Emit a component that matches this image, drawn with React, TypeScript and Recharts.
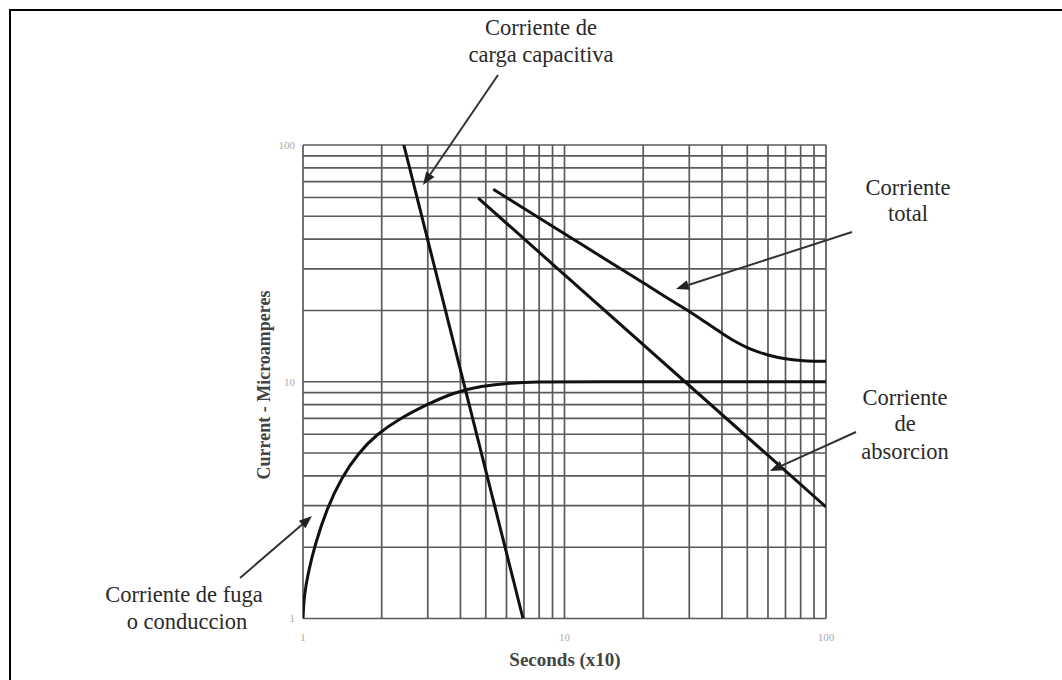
import React from 'react';
import { LineChart, Line, XAxis, YAxis, ReferenceLine } from 'recharts';

// Grid values (log-log paper)
const gridValues = [1, 2, 3, 4, 5, 6, 7, 8, 9, 10, 20, 30, 40, 50, 60, 70, 80, 90, 100];
const tickValues = [1, 10, 100];

// Corriente de carga capacitiva
const capX = [2.43, 6.94];
const capY = [100, 1];

// Corriente de fuga o conduccion
const leakX = [1, 1.01, 1.045, 1.111, 1.232, 1.406, 1.627, 1.913, 2.35, 2.97, 3.76, 4.8, 6.2, 8, 10, 100];
const leakY = [1, 1.25, 1.55, 2.05, 2.9, 3.95, 5, 6, 7, 8, 9, 9.6, 9.9, 10, 10, 10];

// Corriente de absorcion
const absX = [4.68, 100];
const absY = [59.6, 2.96];

// Corriente total
const totX = [5.34, 10, 15, 20, 25, 30, 35, 40, 45, 50, 55, 60, 70, 80, 90, 100];
const totY = [65, 42.2, 31.9, 26.2, 22.4, 19.8, 17.7, 16.03, 14.79, 13.94, 13.37, 12.98, 12.51, 12.29, 12.22, 12.21];

const toData = (xs: number[], ys: number[]) => xs.map((x, i) => ({ x, y: ys[i] }));

const capData = toData(capX, capY);
const leakData = toData(leakX, leakY);
const absData = toData(absX, absY);
const totData = toData(totX, totY);

const FONT = '"Liberation Serif", "Times New Roman", serif';
const GRID = '#5a5a5a';

type ArrowProps = { x1: number; y1: number; x2: number; y2: number };
const Arrow = ({ x1, y1, x2, y2 }: ArrowProps) => {
  const ang = Math.atan2(y2 - y1, x2 - x1);
  const len = 13;
  const w = 5;
  const bx = x2 - len * Math.cos(ang);
  const by = y2 - len * Math.sin(ang);
  const px = -Math.sin(ang) * w;
  const py = Math.cos(ang) * w;
  return (
    <g>
      <line x1={x1} y1={y1} x2={bx} y2={by} stroke="#333" strokeWidth={2} />
      <polygon points={`${x2},${y2} ${bx + px},${by + py} ${bx - px},${by - py}`} fill="#222" />
    </g>
  );
};

const Txt = ({ x, y, children }: { x: number; y: number; children: React.ReactNode }) => (
  <text x={x} y={y} textAnchor="middle" fontFamily={FONT} fontSize={22.5} fill="#2a2a2a">
    {children}
  </text>
);

export default function App() {
  return (
    <div style={{ position: 'absolute', left: 0, top: 0, width: 1062, height: 680, background: '#fff', overflow: 'hidden' }}>
      <div
        style={{
          position: 'absolute',
          left: 9,
          top: 9,
          width: 1100,
          height: 700,
          borderLeft: '2.5px solid #000',
          borderTop: '2.5px solid #000',
        }}
      />
      <div style={{ position: 'absolute', left: 0, top: 0 }}>
        <LineChart
          width={1062}
          height={680}
          margin={{ top: 145, right: 236, left: 263, bottom: 31.5 }}
        >
          <XAxis
            dataKey="x"
            type="number"
            scale="log"
            domain={[1, 100]}
            ticks={tickValues}
            allowDataOverflow
            axisLine={false}
            tickLine={false}
            tickMargin={9}
            height={30}
            tick={{ fontSize: 11, fill: '#aaa', fontFamily: FONT }}
          />
          <YAxis
            dataKey="y"
            type="number"
            scale="log"
            domain={[1, 100]}
            ticks={tickValues}
            allowDataOverflow
            axisLine={false}
            tickLine={false}
            width={40}
            tick={{ fontSize: 11, fill: '#aaa', fontFamily: FONT }}
          />
          {gridValues.map((v) => (
            <ReferenceLine key={`gx${v}`} x={v} stroke={GRID} strokeWidth={1.7} />
          ))}
          {gridValues.map((v) => (
            <ReferenceLine key={`gy${v}`} y={v} stroke={GRID} strokeWidth={1.7} />
          ))}
          <Line data={capData} dataKey="y" type="linear" stroke="#111" strokeWidth={3} dot={false} isAnimationActive={false} />
          <Line data={leakData} dataKey="y" type="basis" stroke="#111" strokeWidth={3} dot={false} isAnimationActive={false} />
          <Line data={absData} dataKey="y" type="linear" stroke="#111" strokeWidth={3} dot={false} isAnimationActive={false} />
          <Line data={totData} dataKey="y" type="monotone" stroke="#111" strokeWidth={3} dot={false} isAnimationActive={false} />
        </LineChart>
      </div>
      <svg width={1062} height={680} style={{ position: 'absolute', left: 0, top: 0, pointerEvents: 'none' }}>
        <text
          transform="translate(270,385) rotate(-90)"
          textAnchor="middle"
          fontFamily={FONT}
          fontWeight="bold"
          fontSize={18}
          fill="#444"
        >
          Current - Microamperes
        </text>
        <text x={565} y={666} textAnchor="middle" fontFamily={FONT} fontWeight="bold" fontSize={19}
          fill="#444">
          Seconds (x10)
        </text>

        <Txt x={541} y={35}>Corriente de</Txt>
        <Txt x={541} y={62}>carga capacitiva</Txt>
        <Arrow x1={498} y1={75} x2={423} y2={185} />

        <Txt x={908} y={195}>Corriente</Txt>
        <Txt x={908} y={221}>total</Txt>
        <Arrow x1={852} y1={232} x2={676} y2={289} />

        <Txt x={905} y={405}>Corriente</Txt>
        <Txt x={905} y={431}>de</Txt>
        <Txt x={905} y={459}>absorcion</Txt>
        <Arrow x1={856} y1={432} x2={770} y2={471} />

        <Txt x={184} y={602}>Corriente de fuga</Txt>
        <Txt x={187} y={629}>o conduccion</Txt>
        <Arrow x1={240} y1={578} x2={312} y2={516} />
      </svg>
    </div>
  );
}
